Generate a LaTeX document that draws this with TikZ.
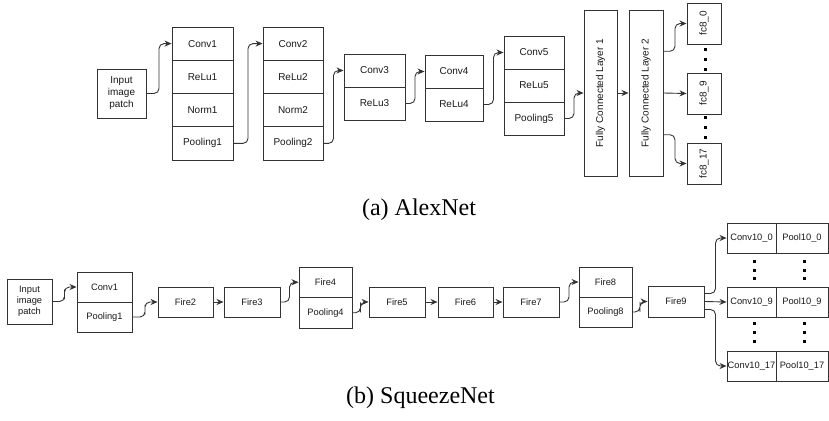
\documentclass[tikz,border=0pt]{standalone}
\usepackage{fontspec}
\setmainfont{Liberation Serif}
\newfontfamily\labfont{Liberation Sans}
\usetikzlibrary{arrows.meta,calc}

\begin{document}
\begin{tikzpicture}[x=1pt,y=-1pt,
  box/.style={draw=black!80, line width=0.9pt, inner sep=0pt, text=black!90,
              font=\labfont\fontsize{10}{12}\selectfont, align=center},
  sbox/.style={box, font=\labfont\fontsize{9.3}{11}\selectfont},
  conn/.style={draw=black!80, line width=0.9pt, rounded corners=5pt,
               -{Stealth[length=7pt,width=6pt]}},
  hv/.style={to path={-| ($(\tikztostart)!0.5!(\tikztotarget)$) |- (\tikztotarget)}},
  capt/.style={font=\fontsize{24}{28}\selectfont},
  vlab/.style={rotate=90, font=\labfont\fontsize{10}{12}\selectfont, text=black!90}]

\useasboundingbox (0,0) rectangle (829,420);

% ---------------- AlexNet ----------------
\node[box, minimum width=49, minimum height=49] (in1) at (121.5,93.5) {Input\\image\\patch};

\node[box, minimum width=61, minimum height=33.25] (conv1) at (202.5,43.6) {Conv1};
\node[box, minimum width=61, minimum height=33.25] (relu1) at (202.5,76.9) {ReLu1};
\node[box, minimum width=61, minimum height=33.25] (norm1) at (202.5,110.1) {Norm1};
\node[box, minimum width=61, minimum height=33.25] (pool1) at (202.5,143.4) {Pooling1};

\node[box, minimum width=60, minimum height=33.25] (conv2) at (293,43.6) {Conv2};
\node[box, minimum width=60, minimum height=33.25] (relu2) at (293,76.9) {ReLu2};
\node[box, minimum width=60, minimum height=33.25] (norm2) at (293,110.1) {Norm2};
\node[box, minimum width=60, minimum height=33.25] (pool2) at (293,143.4) {Pooling2};

\node[box, minimum width=61, minimum height=33] (conv3) at (374.5,70.5) {Conv3};
\node[box, minimum width=61, minimum height=33] (relu3) at (374.5,103.5) {ReLu3};

\node[box, minimum width=58, minimum height=33] (conv4) at (454,71.5) {Conv4};
\node[box, minimum width=58, minimum height=33] (relu4) at (454,104.5) {ReLu4};

\node[box, minimum width=60, minimum height=33] (conv5) at (534,52.5) {Conv5};
\node[box, minimum width=60, minimum height=33] (relu5) at (534,85.5) {ReLu5};
\node[box, minimum width=60, minimum height=33] (pool5) at (534,118.5) {Pooling5};

\node[box, minimum width=33, minimum height=166,
      label={[vlab]center:Fully Connected Layer 1}] (fc1) at (600.5,93) {};
\node[box, minimum width=34, minimum height=166,
      label={[vlab]center:Fully Connected Layer 2}] (fc2) at (646,93) {};

\node[box, minimum width=34, minimum height=41, label={[vlab]center:fc8\_0}] (fc80) at (704,23.5) {};
\node[box, minimum width=34, minimum height=41, label={[vlab]center:fc8\_9}] (fc89) at (704,93.5) {};
\node[box, minimum width=34, minimum height=41, label={[vlab]center:fc8\_17}] (fc817) at (704,163.5) {};

% ellipsis dots between the output units
\foreach \yy in {49.3,59.3,69.3,117.3,127.3,137.3}
  \fill[black] (703.5,\yy-1.5) rectangle ++(3,3);

\coordinate (fc2a) at ($(fc2.north east)!0.25!(fc2.south east)$);
\coordinate (fc2b) at ($(fc2.north east)!0.75!(fc2.south east)$);

\draw[conn] (in1.east) to[hv] (conv1.west);
\draw[conn] (pool1.east) to[hv] (conv2.west);
\draw[conn] (pool2.east) to[hv] (conv3.west);
\draw[conn] (relu3.east) to[hv] (conv4.west);
\draw[conn] (relu4.east) to[hv] (conv5.west);
\draw[conn] (pool5.east) to[hv] (fc1.west);
\draw[conn] (fc1.east) -- (fc2.west);
\draw[conn] (fc2a) to[hv] (fc80.west);
\draw[conn] (fc2.east) -- (fc89.west);
\draw[conn] (fc2b) to[hv] (fc817.west);

\node[capt] (capa) at (419,210) {(a) AlexNet};

% ---------------- SqueezeNet ----------------
\node[sbox, minimum width=45, minimum height=45] (in2) at (29.5,301.5) {Input\\image\\patch};

\node[sbox, minimum width=55, minimum height=30] (sconv1) at (104.5,287) {Conv1};
\node[sbox, minimum width=55, minimum height=30] (spool1) at (104.5,317) {Pooling1};

\node[sbox, minimum width=55, minimum height=30] (fire2) at (185.5,302) {Fire2};
\node[sbox, minimum width=56, minimum height=30] (fire3) at (252,302) {Fire3};

\node[sbox, minimum width=53, minimum height=30.5] (fire4) at (325.5,282.25) {Fire4};
\node[sbox, minimum width=53, minimum height=30.5] (spool4) at (325.5,312.75) {Pooling4};

\node[sbox, minimum width=56, minimum height=30] (fire5) at (397,302) {Fire5};
\node[sbox, minimum width=55, minimum height=30] (fire6) at (465.5,302) {Fire6};
\node[sbox, minimum width=56, minimum height=30] (fire7) at (531,302) {Fire7};

\node[sbox, minimum width=53, minimum height=30] (fire8) at (605.5,282) {Fire8};
\node[sbox, minimum width=53, minimum height=30] (spool8) at (605.5,312) {Pooling8};

\node[sbox, minimum width=56, minimum height=31] (fire9) at (676,301.5) {Fire9};

\node[sbox, minimum width=49, minimum height=30] (c100) at (751.5,238) {Conv10\_0};
\node[sbox, minimum width=52, minimum height=30] (p100) at (802,238) {Pool10\_0};
\node[sbox, minimum width=49, minimum height=30] (c109) at (751.5,302) {Conv10\_9};
\node[sbox, minimum width=52, minimum height=30] (p109) at (802,302) {Pool10\_9};
\node[sbox, minimum width=49, minimum height=30] (c1017) at (751.5,366) {Conv10\_17};
\node[sbox, minimum width=52, minimum height=30] (p1017) at (802,366) {Pool10\_17};

\foreach \xx in {754,804}
  \foreach \yy in {261.7,270,278.3,323.3,332.3,341}
    \fill[black] (\xx-1.5,\yy-1.5) rectangle ++(3,3);

\coordinate (f9a) at ($(fire9.north east)!0.25!(fire9.south east)$);
\coordinate (f9b) at ($(fire9.north east)!0.75!(fire9.south east)$);

\draw[conn] (in2.east) to[hv] (sconv1.west);
\draw[conn] (spool1.east) to[hv] (fire2.west);
\draw[conn] (fire2.east) -- (fire3.west);
\draw[conn] (fire3.east) to[hv] (fire4.west);
\draw[conn] (spool4.east) to[hv] (fire5.west);
\draw[conn] (fire5.east) -- (fire6.west);
\draw[conn] (fire6.east) -- (fire7.west);
\draw[conn] (fire7.east) to[hv] (fire8.west);
\draw[conn] (spool8.east) to[hv] (fire9.west);
\draw[conn] (f9a) to[hv] (c100.west);
\draw[conn] (fire9.east) -- (c109.west);
\draw[conn] (f9b) to[hv] (c1017.west);

\node[capt] (capb) at (420.5,398) {(b) SqueezeNet};

\end{tikzpicture}
\end{document}
